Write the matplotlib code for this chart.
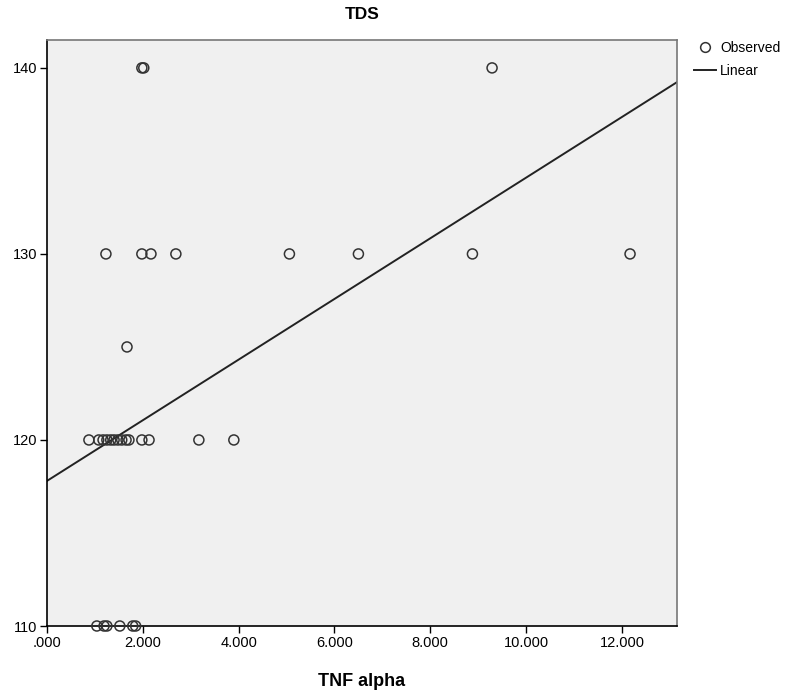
import matplotlib
matplotlib.use("Agg")
import matplotlib.pyplot as plt
from matplotlib.lines import Line2D
from matplotlib.ticker import FuncFormatter
import numpy as np

# Observed data (TNF alpha, TDS)
tnf_140 = [1.98, 2.02, 9.29]
tnf_130 = [1.23, 1.98, 2.17, 2.69, 5.06, 6.50, 8.88, 12.17]
tnf_125 = [1.67]
tnf_120 = [0.875, 1.08, 1.17, 1.25, 1.33, 1.40, 1.48, 1.56, 1.65, 1.71, 1.98, 2.13, 3.17, 3.90]
tnf_110 = [1.04, 1.19, 1.25, 1.52, 1.79, 1.85]
tds_levels = [140, 130, 125, 120, 110]

# Linear fit
intercept = 117.8
slope = 1.63

x_ticks = [0, 2, 4, 6, 8, 10, 12]
y_ticks = [110, 120, 130, 140]

groups = [tnf_140, tnf_130, tnf_125, tnf_120, tnf_110]
xs = np.concatenate([np.array(g) for g in groups])
ys = np.concatenate([np.full(len(g), lvl) for g, lvl in zip(groups, tds_levels)])

plt.rcParams['font.family'] = ['Liberation Sans', 'DejaVu Sans']

fig = plt.figure(figsize=(7.96, 6.93), dpi=100)
W, H = 796, 693
left, right, top, bottom = 47, 677, 40, 626
ax = fig.add_axes([left / W, 1 - bottom / H, (right - left) / W, (bottom - top) / H])
ax.set_facecolor('#F0F0F0')

xmin, xmax = 0, 13.15
ymin, ymax = 110, 141.5
ax.set_xlim(xmin, xmax)
ax.set_ylim(ymin, ymax)

xl = np.array([xmin, xmax])
ax.plot(xl, intercept + slope * xl, color='#222222', lw=1.4, zorder=2, clip_on=True)
ax.scatter(xs, ys, s=52, facecolors='none', edgecolors='#333333', linewidths=1.1,
           zorder=3, clip_on=False)

ax.set_xticks(x_ticks)
ax.set_yticks(y_ticks)
ax.xaxis.set_major_formatter(FuncFormatter(lambda v, p: ('%.3f' % v).lstrip('0') if v < 1 else '%.3f' % v))
ax.tick_params(direction='out', length=5, width=1, labelsize=10.5, colors='black', pad=2)

for s in ['left', 'bottom']:
    ax.spines[s].set_color('black')
    ax.spines[s].set_linewidth(1.2)
for s in ['top', 'right']:
    ax.spines[s].set_color('#777777')
    ax.spines[s].set_linewidth(1.2)

ax.set_title('TDS', fontsize=12.5, fontweight='bold', pad=15)
ax.set_xlabel('TNF alpha', fontsize=13, fontweight='bold', labelpad=17)

handles = [Line2D([], [], marker='o', ls='none', markerfacecolor='none',
                  markeredgecolor='#333333', markersize=7, markeredgewidth=1.1),
           Line2D([], [], color='#222222', lw=1.4)]
fig.legend(handles, ['Observed', 'Linear'], loc='upper left',
           bbox_to_anchor=(688 / W, 1 - 35 / H), frameon=False, fontsize=10,
           handlelength=1.6, handletextpad=0.3, labelspacing=0.7, borderaxespad=0)

fig.savefig('out.png', dpi=100)
